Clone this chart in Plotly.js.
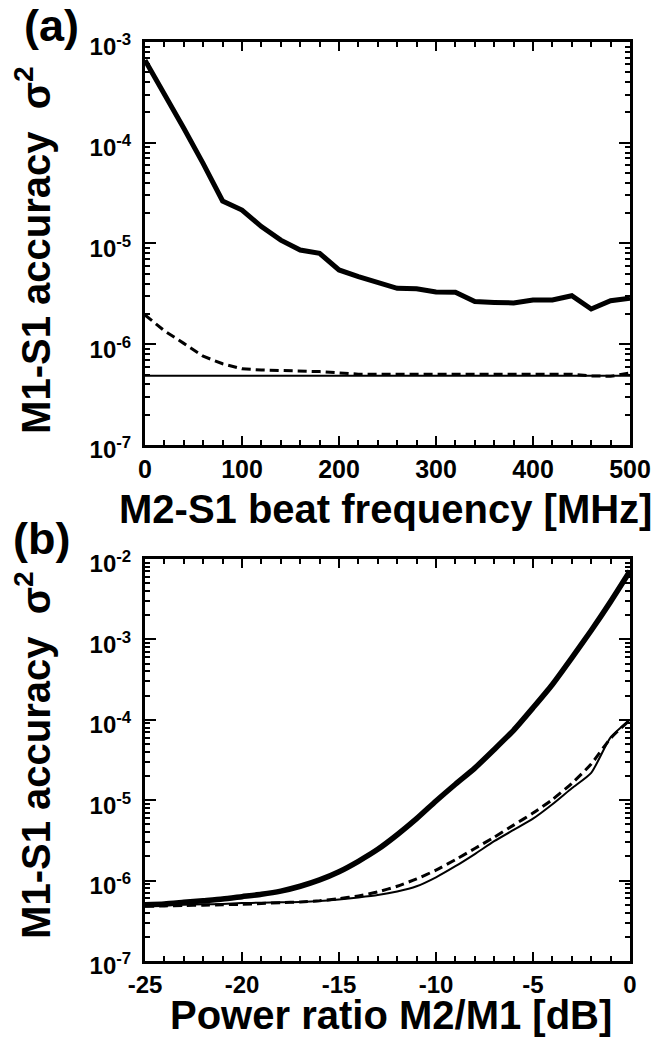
<!DOCTYPE html>
<html>
<head>
<meta charset="utf-8">
<script src="https://cdn.plot.ly/plotly-3.0.1.min.js"></script>
<style>
html,body{margin:0;padding:0;background:#fff;}
#chart{width:654px;height:1038px;}
</style>
</head>
<body>
<div id="chart"></div>
<script>
// ---------- Panel (a) data ----------
const freqA = [0,20,40,60,80,100,120,140,160,180,200,220,240,260,280,300,320,340,360,380,400,420,440,460,480,500];
const thickA = [6.6e-4,3.1e-4,1.39e-4,6.2e-5,2.64e-5,2.15e-5,1.47e-5,1.08e-5,8.6e-6,8.0e-6,5.46e-6,4.69e-6,4.08e-6,3.59e-6,3.56e-6,3.30e-6,3.28e-6,2.65e-6,2.60e-6,2.57e-6,2.75e-6,2.75e-6,3.03e-6,2.24e-6,2.7e-6,2.86e-6];
const dashA = [1.95e-6,1.36e-6,1.02e-6,7.6e-7,6.4e-7,5.7e-7,5.55e-7,5.5e-7,5.45e-7,5.35e-7,5.2e-7,5.05e-7,5.05e-7,5.05e-7,5.05e-7,5.05e-7,5.05e-7,5.05e-7,5.05e-7,5.05e-7,5.05e-7,5.05e-7,5.05e-7,4.85e-7,4.8e-7,5.2e-7];
const thinA = [4.88e-7,4.88e-7,4.88e-7,4.88e-7,4.88e-7,4.88e-7,4.88e-7,4.88e-7,4.88e-7,4.88e-7,4.88e-7,4.88e-7,4.88e-7,4.88e-7,4.88e-7,4.88e-7,4.88e-7,4.88e-7,4.88e-7,4.88e-7,4.88e-7,4.88e-7,4.88e-7,4.88e-7,4.88e-7,4.88e-7];

// ---------- Panel (b) data ----------
const dbB = [-25,-24,-23,-22,-21,-20,-19,-18,-17,-16,-15,-14,-13,-12,-11,-10,-9,-8,-7,-6,-5,-4,-3,-2,-1,0];
const thickB = [5.01e-7,5.13e-7,5.37e-7,5.62e-7,5.89e-7,6.31e-7,6.76e-7,7.41e-7,8.51e-7,1.02e-6,1.29e-6,1.74e-6,2.45e-6,3.72e-6,5.89e-6,9.77e-6,1.58e-5,2.51e-5,4.27e-5,7.41e-5,1.41e-4,2.75e-4,5.89e-4,1.29e-3,2.95e-3,7.08e-3];
const thinB = [4.79e-7,4.90e-7,5.01e-7,5.07e-7,5.13e-7,5.25e-7,5.31e-7,5.37e-7,5.43e-7,5.56e-7,5.82e-7,6.17e-7,6.61e-7,7.33e-7,8.51e-7,1.10e-6,1.51e-6,2.14e-6,3.09e-6,4.27e-6,5.89e-6,8.91e-6,1.41e-5,2.19e-5,6.03e-5,1.0e-4];
const dashB = [4.79e-7,4.84e-7,4.90e-7,4.95e-7,5.01e-7,5.07e-7,5.19e-7,5.31e-7,5.43e-7,5.62e-7,5.96e-7,6.46e-7,7.24e-7,8.51e-7,1.05e-6,1.35e-6,1.82e-6,2.51e-6,3.47e-6,4.90e-6,6.92e-6,1.02e-5,1.62e-5,2.82e-5,5.89e-5,1.0e-4];

// ---------- tick labels ----------
const xTickValsA = [0,100,200,300,400,500];
const xTickTextA = ['0','100','200','300','400','500'];
const xTickValsB = [-25,-20,-15,-10,-5,0];
const xTickTextB = ['-25','-20','-15','-10','-5','0'];
const yTickValsA = [1e-7,1e-6,1e-5,1e-4,1e-3];
const yTickTextA = ['10<sup>-7</sup>','10<sup>-6</sup>','10<sup>-5</sup>','10<sup>-4</sup>','10<sup>-3</sup>'];
const yTickValsB = [1e-7,1e-6,1e-5,1e-4,1e-3,1e-2];
const yTickTextB = ['10<sup>-7</sup>','10<sup>-6</sup>','10<sup>-5</sup>','10<sup>-4</sup>','10<sup>-3</sup>','10<sup>-2</sup>'];

const xTitleA = 'M2-S1 beat frequency [MHz]';
const xTitleB = 'Power ratio M2/M1 [dB]';
const yTitle = 'M1-S1 accuracy  σ<sup>2</sup>';

function minorLog(e0, e1) {
  const v = [];
  for (let e = e0; e < e1; e++) for (let k = 2; k <= 9; k++) v.push(k * Math.pow(10, e));
  return v;
}
function minorLin(a, b, step) {
  const v = [];
  for (let t = a; t <= b + 1e-9; t += step) v.push(t);
  return v;
}

const FONT = 'Liberation Sans, Arial, Helvetica, sans-serif';
const black = '#000';

const traces = [
  {x: freqA, y: thinA, xaxis:'x', yaxis:'y', mode:'lines', line:{color:black, width:2}},
  {x: freqA, y: dashA, xaxis:'x', yaxis:'y', mode:'lines', line:{color:black, width:3, dash:'9px,5px'}},
  {x: freqA, y: thickA, xaxis:'x', yaxis:'y', mode:'lines', line:{color:black, width:5}},
  {x: dbB, y: thinB, xaxis:'x2', yaxis:'y2', mode:'lines', line:{color:black, width:2, shape:'spline', smoothing:0.6}},
  {x: dbB, y: dashB, xaxis:'x2', yaxis:'y2', mode:'lines', line:{color:black, width:3, dash:'9px,5px', shape:'spline', smoothing:0.6}},
  {x: dbB, y: thickB, xaxis:'x2', yaxis:'y2', mode:'lines', line:{color:black, width:5.5, shape:'spline', smoothing:0.6}}
];

const axCommon = {
  showline:true, linewidth:3, linecolor:black, mirror:'allticks',
  ticks:'inside', tickwidth:2, tickcolor:black,
  showgrid:false, zeroline:false
};
const xTickFont = {family:FONT, size:25, color:black, weight:'bold'};
const xTickFontB = {family:FONT, size:24, color:black, weight:'bold'};
const yTickFont = {family:FONT, size:24, color:black, weight:'bold'};

const layout = {
  width:654, height:1038,
  margin:{l:145, r:24, t:42, b:77},
  paper_bgcolor:'#fff', plot_bgcolor:'#fff',
  showlegend:false,
  xaxis: Object.assign({}, axCommon, {
    domain:[0,1], anchor:'y', range:[0,500], tickmode:'array', tickvals:xTickValsA, ticktext:xTickTextA, ticklen:9,
    tickfont:xTickFont,
    minor:{tickmode:'array', tickvals:minorLin(0,500,20), ticks:'inside', ticklen:5, tickwidth:2, tickcolor:black, showgrid:false}
  }),
  yaxis: Object.assign({}, axCommon, {
    domain:[0.5615,1], anchor:'x', type:'log', range:[-7,-3], tickmode:'array',
    tickvals:yTickValsA, ticktext:yTickTextA, ticklen:11, ticklabelstandoff:6, ticklabelshift:5,
    tickfont:yTickFont,
    minor:{tickmode:'array', tickvals:minorLog(-7,-3), ticks:'inside', ticklen:5, tickwidth:2, tickcolor:black, showgrid:false}
  }),
  xaxis2: Object.assign({}, axCommon, {
    domain:[0,1], anchor:'y2', range:[-25,0], tickmode:'array', tickvals:xTickValsB, ticktext:xTickTextB, ticklen:9,
    tickfont:xTickFontB,
    minor:{tickmode:'array', tickvals:minorLin(-25,0,1), ticks:'inside', ticklen:5, tickwidth:2, tickcolor:black, showgrid:false}
  }),
  yaxis2: Object.assign({}, axCommon, {
    domain:[0,0.4374], anchor:'x2', type:'log', range:[-7,-2], tickmode:'array',
    tickvals:yTickValsB, ticktext:yTickTextB, ticklen:11, ticklabelstandoff:6, ticklabelshift:5,
    tickfont:yTickFont,
    minor:{tickmode:'array', tickvals:minorLog(-7,-2), ticks:'inside', ticklen:5, tickwidth:2, tickcolor:black, showgrid:false}
  }),
  annotations:[
    {text:'(a)', xref:'paper', yref:'paper', x:-0.254, y:1.048, xanchor:'left', yanchor:'top', showarrow:false,
     font:{family:FONT, size:45, color:black, weight:'bold'}},
    {text:'(b)', xref:'paper', yref:'paper', x:-0.277, y:0.49, xanchor:'left', yanchor:'top', showarrow:false,
     font:{family:FONT, size:45, color:black, weight:'bold'}},
    {text:xTitleA, xref:'paper', yref:'paper', x:0.495, y:0.4915, xanchor:'center', yanchor:'middle', showarrow:false,
     font:{family:FONT, size:40, color:black, weight:'bold'}},
    {text:xTitleB, xref:'paper', yref:'paper', x:0.507, y:-0.0592, xanchor:'center', yanchor:'middle', showarrow:false, borderpad:0,
     font:{family:FONT, size:40, color:black, weight:'bold'}},
    {text:yTitle, xref:'paper', yref:'paper', x:-0.231, y:0.7737, xanchor:'center', yanchor:'middle', textangle:-90, showarrow:false,
     font:{family:FONT, size:40, color:black, weight:'bold'}},
    {text:yTitle, xref:'paper', yref:'paper', x:-0.231, y:0.2242, xanchor:'center', yanchor:'middle', textangle:-90, showarrow:false,
     font:{family:FONT, size:40, color:black, weight:'bold'}}
  ]
};

Plotly.newPlot('chart', traces, layout, {staticPlot:true, displayModeBar:false});
</script>
</body>
</html>
